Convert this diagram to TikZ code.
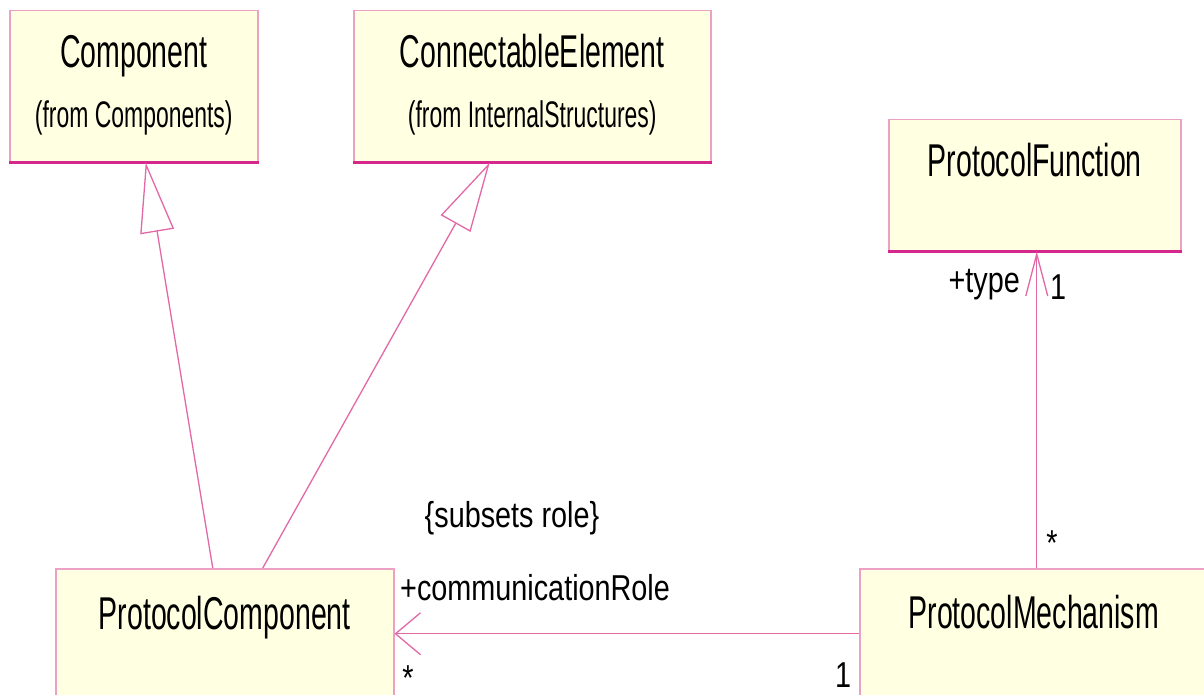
\documentclass[tikz,border=0pt]{standalone}
\usepackage{fontspec}
\setmainfont{Liberation Sans}
\usepackage{graphicx}
\usetikzlibrary{arrows.meta}
\definecolor{boxfill}{RGB}{255,255,226}
\definecolor{boxline}{RGB}{236,160,196}
\definecolor{edgeline}{RGB}{214,40,140}
\definecolor{linkline}{RGB}{226,104,166}
\newcommand{\cname}[1]{\scalebox{0.62}[1]{#1}}
\newcommand{\rname}[1]{\scalebox{0.8}[1]{#1}}
\tikzset{
  umlbox/.style={draw=boxline, fill=boxfill, line width=1.5pt, inner sep=0pt, anchor=north west},
  classtxt/.style={font=\fontsize{46}{50}\selectfont, inner sep=0pt, anchor=base},
  fromtxt/.style={font=\fontsize{37}{40}\selectfont, inner sep=0pt, anchor=base},
  roletxt/.style={font=\fontsize{36}{40}\selectfont, inner sep=0pt},
  genline/.style={draw=linkline, line width=1.3pt, -{Triangle[open, length=70pt, width=34pt]}},
  assocline/.style={draw=linkline, line width=1.3pt}
}
\begin{document}
\begin{tikzpicture}[x=1pt,y=1pt]
    \clip (0,0) rectangle (1204,694);
    %% Classes
    \node[umlbox, minimum width=248pt, minimum height=151pt] (comp) at (9,684) {};
    \node[umlbox, minimum width=357pt, minimum height=151pt] (conn) at (353,684) {};
    \node[umlbox, minimum width=292pt, minimum height=131pt] (pfun) at (888,575) {};
    \node[umlbox, minimum width=338pt, minimum height=130pt] (pcomp) at (55,126) {};
    \node[umlbox, minimum width=354pt, minimum height=130pt] (pmech) at (859,126) {};
    \foreach \b in {comp,conn,pfun}
        \draw[edgeline, line width=3pt] (\b.south west) -- (\b.south east);
    %% Class names
    \node[classtxt] (comptxt) at ([yshift=-58pt]comp.north) {\cname{Component}};
    \node[fromtxt] (compfrom) at ([yshift=-118pt]comp.north) {\cname{(from Components)}};
    \node[classtxt] (conntxt) at ([yshift=-58pt]conn.north) {\cname{ConnectableElement}};
    \node[fromtxt] (connfrom) at ([yshift=-118pt]conn.north) {\cname{(from InternalStructures)}};
    \node[classtxt] (pfuntxt) at ([yshift=-58pt]pfun.north) {\cname{ProtocolFunction}};
    \node[classtxt] (pcomptxt) at ([yshift=-61pt]pcomp.north) {\cname{ProtocolComponent}};
    \node[classtxt] (pmechtxt) at ([xshift=-3pt,yshift=-60pt]pmech.north) {\cname{ProtocolMechanism}};
    %% Generalizations
    \draw[genline] ([xshift=-12pt]pcomp.north) -- ([xshift=12pt]comp.south);
    \draw[genline] ([xshift=38pt]pcomp.north) -- ([xshift=-42.5pt]conn.south);
    %% Associations
    \draw[assocline, -{Straight Barb[length=25pt, width=42pt]}] (pmech.west) -- (pcomp.east);
    \draw[assocline, -{Straight Barb[length=42pt, width=22pt]}] (pmech.north) -- (pmech.north |- pfun.south);
    %% Roles and multiplicities
    \node[roletxt, anchor=base] (subs) at (512,167) {\rname{\{subsets role\}}};
    \node[roletxt, anchor=base west] (crole) at (400,94) {\rname{+communicationRole}};
    \node[roletxt, anchor=base] (mulpc) at (408,4) {\rname{*}};
    \node[roletxt, anchor=base] (mulpm) at (843,7) {\rname{1}};
    \node[roletxt, anchor=base east] (ftype) at (1020,401) {\rname{+type}};
    \node[roletxt, anchor=base] (mulpf) at (1058,394) {\rname{1}};
    \node[roletxt, anchor=base] (mulst) at (1052,139) {\rname{*}};
\end{tikzpicture}
\end{document}
